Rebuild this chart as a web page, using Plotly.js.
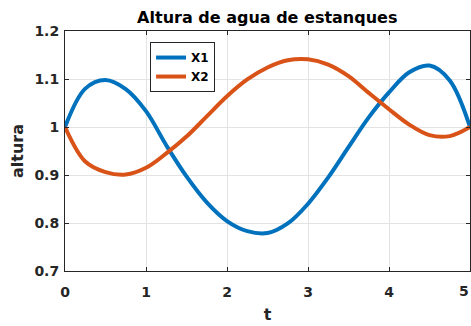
<!DOCTYPE html>
<html>
<head>
<meta charset="utf-8">
<script src="https://cdn.plot.ly/plotly-3.0.1.min.js"></script>
<style>html,body{margin:0;padding:0;background:#fff;}#chart{width:471px;height:326px;}</style>
</head>
<body>
<div id="chart"></div>
<script>
var tValues = [0, 0.25, 0.5, 0.75, 1.0, 1.25, 1.5, 1.75, 2.0, 2.25, 2.5, 2.75, 3.0, 3.25, 3.5, 3.75, 4.0, 4.25, 4.5, 4.75, 5.0];
var x1Values = [1.000, 1.080, 1.098, 1.079, 1.033, 0.962, 0.897, 0.843, 0.804, 0.783, 0.779, 0.799, 0.840, 0.895, 0.958, 1.020, 1.072, 1.114, 1.128, 1.097, 1.000];
var x2Values = [1.000, 0.928, 0.906, 0.901, 0.915, 0.945, 0.980, 1.022, 1.064, 1.099, 1.124, 1.139, 1.141, 1.130, 1.106, 1.071, 1.037, 1.005, 0.983, 0.981, 1.000];
var seriesNames = ["X1", "X2"];
var xTicks = [0, 1, 2, 3, 4, 5];
var xTickText = ["0", "1", "2", "3", "4", "5"];
var yTicks = [0.7, 0.8, 0.9, 1.0, 1.1, 1.2];
var yTickText = ["0.7", "0.8", "0.9", "1", "1.1", "1.2"];

var FONT = "DejaVu Sans, Liberation Sans, Arial, sans-serif";
var TICKFONT = {family: FONT, size: 14, color: "#262626", weight: "bold"};
var last = xTickText.length - 1;
// the last x label sits on the page edge: draw it right-anchored so it stays whole
var xTickShown = xTickText.map(function (s, i) { return i === last ? "" : s; });
var traces = [
  {x: tValues, y: x1Values, name: seriesNames[0], mode: "lines",
   line: {color: "#0072BD", width: 4, shape: "spline", smoothing: 1}},
  {x: tValues, y: x2Values, name: seriesNames[1], mode: "lines",
   line: {color: "#D95319", width: 4, shape: "spline", smoothing: 1}}
];
var axisCommon = {
  showline: true, linecolor: "#262626", linewidth: 1, mirror: "ticks",
  ticks: "inside", ticklen: 4, tickcolor: "#262626", tickwidth: 1,
  showgrid: true, gridcolor: "#e3e3e3", gridwidth: 1, zeroline: false,
  tickfont: TICKFONT
};
var layout = {
  width: 471, height: 326,
  margin: {l: 65, r: 1, t: 31, b: 55, pad: 0},
  paper_bgcolor: "#ffffff", plot_bgcolor: "#ffffff",
  showlegend: true,
  title: {text: "<b>Altura de agua de estanques</b>", x: 0.5675, xanchor: "center", y: 0.948, yanchor: "middle",
          font: {family: FONT, size: 16, color: "#000000"}},
  xaxis: Object.assign({}, axisCommon, {
    range: [0, 5], tickvals: xTicks, ticktext: xTickShown, ticklabelstandoff: 8,
    title: {text: "<b>t</b>", standoff: 10, font: {family: FONT, size: 16, color: "#262626"}}
  }),
  yaxis: Object.assign({}, axisCommon, {
    range: [0.7, 1.2], tickvals: yTicks, ticktext: yTickText, ticklabelstandoff: 2,
    title: {text: "<b>altura</b>", standoff: 6, font: {family: FONT, size: 16, color: "#262626"}}
  }),
  annotations: [{
    x: xTicks[last], xref: "x", xanchor: "right", xshift: 0,
    y: 0, yref: "paper", yanchor: "middle", yshift: -20,
    text: xTickText[last], showarrow: false, font: TICKFONT, borderpad: 0
  }],
  legend: {x: 0.21, y: 0.954, xanchor: "left", yanchor: "top",
           bgcolor: "#ffffff", bordercolor: "#262626", borderwidth: 1,
           font: {family: FONT, size: 12, color: "#000000", weight: "bold"},
           itemwidth: 30, tracegroupgap: 0}
};
Plotly.newPlot("chart", traces, layout, {displayModeBar: false, staticPlot: true});
</script>
</body>
</html>
